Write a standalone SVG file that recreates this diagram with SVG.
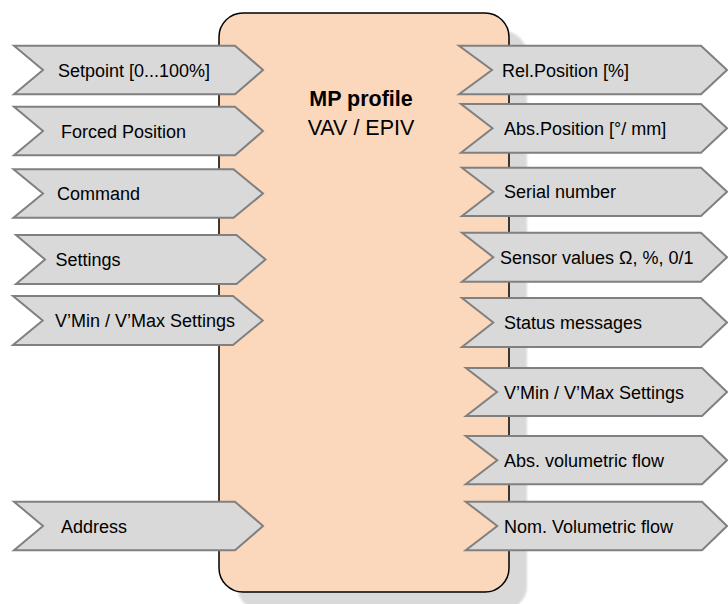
<svg xmlns="http://www.w3.org/2000/svg" width="728" height="604" viewBox="0 0 728 604">
<defs>
<style>
.arrow{fill:#d9d9d9;stroke:#808080;stroke-width:2;stroke-linejoin:miter}
.lbl{font-family:"Liberation Sans",Arial,sans-serif;font-size:18px;fill:#000}
.title{font-family:"Liberation Sans",Arial,sans-serif;font-size:21.5px;fill:#000;text-anchor:middle}
</style>
<filter id="blur" x="-5%" y="-5%" width="110%" height="110%"><feGaussianBlur stdDeviation="1.2"/></filter>
</defs>
<rect width="728" height="604" fill="#ffffff"/>
<g id="profile">
<rect x="237" y="31" width="290" height="579" rx="24" ry="24" fill="#d9d9d9" filter="url(#blur)"/>
<rect x="219" y="13" width="290" height="579" rx="24" ry="24" fill="#fbd7bb" stroke="#000" stroke-width="1.5"/>
<text class="title" x="361" y="106" font-weight="bold">MP profile</text>
<text class="title" x="361" y="135">VAV / EPIV</text>
</g>
<g id="connectors"></g>
<g id="in-setpoint">
<polygon class="arrow" points="14,45.7 235,45.7 263,70 235,94.3 14,94.3 43,70"/>
<text class="lbl" x="58" y="76.5">Setpoint [0...100%]</text>
</g>
<g id="in-forced">
<polygon class="arrow" points="14,106.7 235,106.7 263,131 235,155.3 14,155.3 43,131"/>
<text class="lbl" x="61" y="137.5">Forced Position</text>
</g>
<g id="in-command">
<polygon class="arrow" points="13.5,169.3 233.5,169.3 263,193.5 233.5,217.7 13.5,217.7 43,193.5"/>
<text class="lbl" x="57" y="200">Command</text>
</g>
<g id="in-settings">
<polygon class="arrow" points="16,235 236.5,235 265.5,259.5 236.5,284 16,284 45,259.5"/>
<text class="lbl" x="55.5" y="266">Settings</text>
</g>
<g id="in-vminmax">
<polygon class="arrow" points="13,296 233,296 262.7,320.5 233,345 13,345 42.7,320.5"/>
<text class="lbl" x="55" y="327">V’Min / V’Max Settings</text>
</g>
<g id="in-address">
<polygon class="arrow" points="14,501.7 235,501.7 263,526 235,550.3 14,550.3 43,526"/>
<text class="lbl" x="61" y="532.5">Address</text>
</g>
<g id="out-relpos">
<polygon class="arrow" points="459,45.7 701,45.7 727,70 701,94.3 459,94.3 492,70"/>
<text class="lbl" x="502" y="76.5">Rel.Position [%]</text>
</g>
<g id="out-abspos">
<polygon class="arrow" points="461,104 701,104 727,128.3 701,152.7 461,152.7 492.5,128.3"/>
<text class="lbl" x="504" y="134.8">Abs.Position [°/ mm]</text>
</g>
<g id="out-serial">
<polygon class="arrow" points="462,167.7 701,167.7 727,191.8 701,216 462,216 493.3,191.8"/>
<text class="lbl" x="504" y="198.3">Serial number</text>
</g>
<g id="out-sensor">
<polygon class="arrow" points="462,232.7 701,232.7 727,257.2 701,281.7 462,281.7 493.3,257.2"/>
<text class="lbl" x="500" y="263.7">Sensor values Ω, %, 0/1</text>
</g>
<g id="out-status">
<polygon class="arrow" points="462,298 701,298 727,322.5 701,347 462,347 493.3,322.5"/>
<text class="lbl" x="504" y="329">Status messages</text>
</g>
<g id="out-vminmax">
<polygon class="arrow" points="466,368 702,368 727,392 702,416 466,416 497,392"/>
<text class="lbl" x="504" y="398.5">V’Min / V’Max Settings</text>
</g>
<g id="out-absflow">
<polygon class="arrow" points="465.7,436 702,436 727,460.2 702,484.3 465.7,484.3 497.3,460.2"/>
<text class="lbl" x="504" y="466.7">Abs. volumetric flow</text>
</g>
<g id="out-nomflow">
<polygon class="arrow" points="465.7,501.7 702,501.7 727,526 702,550.3 465.7,550.3 497.3,526"/>
<text class="lbl" x="504" y="532.5">Nom. Volumetric flow</text>
</g>
</svg>
